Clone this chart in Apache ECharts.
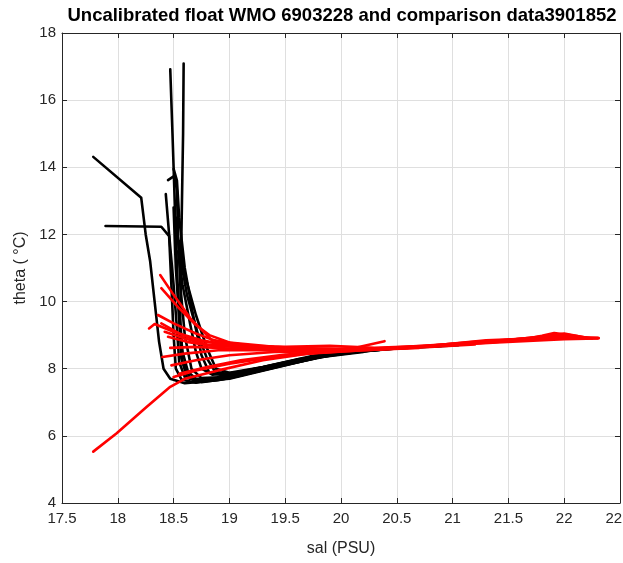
<!DOCTYPE html>
<html>
<head>
<meta charset="utf-8">
<script src="https://cdn.jsdelivr.net/npm/echarts@6/dist/echarts.min.js"></script>
<style>
html,body{margin:0;padding:0;background:#fff;}
#chart{width:623px;height:563px;}
</style>
</head>
<body>
<div id="chart"></div>
<script>
// Tick values
const xTicks = [17.5, 18, 18.5, 19, 19.5, 20, 20.5, 21, 21.5, 22, 22.5];
const yTicks = [4, 6, 8, 10, 12, 14, 16, 18];

// Uncalibrated float profiles (black): [sal, theta]
const b01 = [[18.47,16.92],[18.49,15.0],[18.51,13.0],[18.53,11.0],[18.55,9.5],[18.57,8.3],[18.62,7.75],[18.75,7.6],[19.0,7.72],[19.5,8.12],[20.0,8.46],[20.5,8.6],[21.05,8.7]];
const b02 = [[18.59,17.09],[18.585,15.0],[18.575,13.0],[18.565,11.0],[18.56,9.5],[18.58,8.2],[18.65,7.7],[18.8,7.64],[19.2,7.9],[19.7,8.32],[20.2,8.52]];
const b03 = [[17.78,14.31],[18.21,13.09],[18.25,12.0],[18.29,11.2],[18.33,10.0],[18.37,8.8],[18.41,8.0],[18.47,7.7],[18.6,7.57],[18.9,7.66],[19.4,8.03],[19.9,8.42],[20.3,8.56]];
const b04 = [[17.89,12.25],[18.39,12.23],[18.46,11.95],[18.48,10.5],[18.5,9.0],[18.52,8.0],[18.57,7.68],[18.7,7.58],[19.1,7.8],[19.6,8.25],[20.1,8.48]];
const b05 = [[18.45,13.62],[18.51,13.75],[18.53,13.3],[18.54,12.0],[18.56,10.5],[18.6,9.0],[18.66,8.0],[18.75,7.72],[19.0,7.76],[19.5,8.15],[20.0,8.47],[20.6,8.63]];
const b06 = [[18.5,13.95],[18.53,13.6],[18.55,12.5],[18.6,11.0],[18.68,9.5],[18.75,8.4],[18.82,7.88],[18.95,7.8],[19.3,8.02],[19.8,8.38],[20.4,8.58]];
const b07 = [[18.43,13.2],[18.46,12.0],[18.5,10.5],[18.53,9.2],[18.55,8.2],[18.6,7.75],[18.72,7.62],[19.0,7.7],[19.4,8.02],[19.9,8.42]];
const b08 = [[18.52,12.5],[18.55,11.5],[18.62,10.2],[18.72,9.0],[18.8,8.3],[18.87,7.92],[18.98,7.84],[19.3,8.04],[19.8,8.4],[20.5,8.61],[20.9,8.68]];
const b09 = [[18.55,11.8],[18.6,10.8],[18.7,9.6],[18.8,8.6],[18.88,8.0],[19.0,7.88],[19.3,8.05],[19.8,8.42]];
const b10 = [[18.5,12.8],[18.52,11.0],[18.55,9.5],[18.58,8.5],[18.63,7.9],[18.7,7.7],[18.9,7.7],[19.3,7.98],[19.7,8.3],[20.2,8.5]];
const b11 = [[18.54,11.5],[18.58,10.5],[18.65,9.3],[18.7,8.5],[18.75,8.0],[18.85,7.82],[19.1,7.9],[19.6,8.27],[20.0,8.46]];

// Comparison data profiles (red): [sal, theta]
const r01 = [[18.38,10.79],[18.5,10.2],[18.65,9.5],[18.84,8.86],[19.1,8.72],[19.5,8.6],[20.0,8.55],[20.5,8.62],[21.0,8.72],[21.5,8.82],[21.9,8.92],[22.31,8.91]];
const r02 = [[18.39,10.4],[18.55,9.8],[18.7,9.3],[18.82,9.0],[19.0,8.78],[19.4,8.65],[19.8,8.58],[20.3,8.6],[20.8,8.7],[21.3,8.8],[21.8,8.95],[22.1,8.98],[22.25,8.9]];
const r03 = [[18.28,9.2],[18.33,9.33],[18.5,9.1],[18.7,8.85],[19.0,8.7],[19.4,8.62],[19.8,8.55],[20.1,8.6],[20.39,8.82]];
const r04 = [[18.39,9.35],[18.55,9.05],[18.75,8.85],[19.0,8.7],[19.5,8.65],[19.9,8.68],[20.3,8.62],[20.8,8.68],[21.3,8.85],[21.7,8.9],[22.0,9.05],[22.2,8.92]];
const r05 = [[18.42,9.1],[18.6,8.9],[18.8,8.72],[19.2,8.62],[19.7,8.55],[20.2,8.58],[20.7,8.65],[21.2,8.75],[21.6,8.85],[21.8,8.98],[21.91,9.06],[22.05,9.0],[22.15,8.93]];
const r06 = [[18.47,8.62],[18.7,8.65],[19.0,8.6],[19.4,8.55],[19.9,8.52],[20.4,8.6],[20.9,8.7],[21.4,8.82],[21.85,8.98],[22.2,8.9]];
const r07 = [[18.4,8.35],[18.6,8.45],[18.9,8.55],[19.3,8.55],[19.7,8.5],[20.2,8.57],[20.6,8.62]];
const r08 = [[18.5,7.75],[18.7,7.95],[19.0,8.15],[19.4,8.35],[19.8,8.48],[20.3,8.57],[20.8,8.65],[21.2,8.72]];
const r09 = [[17.78,5.53],[17.99,6.08],[18.26,6.87],[18.47,7.46],[18.6,7.7],[18.9,7.95],[19.3,8.25],[19.7,8.45],[20.2,8.55],[20.7,8.62]];
const r10 = [[18.45,8.95],[18.62,8.8],[18.85,8.68],[19.2,8.63],[19.6,8.62],[20.0,8.58]];
const r11 = [[18.48,8.1],[18.7,8.25],[19.0,8.4],[19.4,8.5],[19.8,8.52],[20.3,8.58],[20.8,8.67],[21.4,8.78],[22.0,8.88],[22.3,8.9]];
const r12 = [[18.55,7.85],[18.8,8.05],[19.1,8.25],[19.5,8.42],[20.0,8.52]];
const r13 = [[18.36,9.6],[18.5,9.35],[18.7,9.05],[18.9,8.8],[19.3,8.65],[19.7,8.6],[20.2,8.58],[20.7,8.66],[21.2,8.8],[21.6,8.88],[22.0,8.95],[22.3,8.92]];

const blackProfiles = [b01,b02,b03,b04,b05,b06,b07,b08,b09,b10,b11];
const redProfiles = [r01,r02,r03,r04,r05,r06,r07,r08,r09,r10,r11,r12,r13];

const FONT = 'Liberation Sans, Arial, sans-serif';
const AX = '#262626';

function mkSeries(data, color, z) {
  return {
    type: 'line', data: data, showSymbol: false, symbol: 'none',
    xAxisIndex: 0, yAxisIndex: 0, z: z,
    lineStyle: { color: color, width: 2.6, cap: 'round', join: 'round' },
    silent: true, animation: false, clip: true
  };
}

const series = [];
blackProfiles.forEach(p => series.push(mkSeries(p, '#000000', 2)));
redProfiles.forEach(p => series.push(mkSeries(p, '#ff0000', 3)));

const gridDef = { left: 62, right: 3, top: 33, bottom: 60, containLabel: false, outerBoundsMode: 'none' };

function axisCommon(showLabel) {
  return {
    axisLine: { show: true, lineStyle: { color: AX, width: 1 } },
    axisTick: { show: true, inside: true, length: 5, lineStyle: { color: AX, width: 1 } },
    axisLabel: { show: showLabel, color: '#262626', fontFamily: FONT, fontSize: 15 },
  };
}

const option = {
  animation: false,
  backgroundColor: '#ffffff',
  grid: gridDef,
  graphic: [{
    type: 'text', x: 342, y: 16,
    style: { text: 'Uncalibrated float WMO 6903228 and comparison data3901852',
      align: 'center', verticalAlign: 'middle',
      font: 'bold 18.5px ' + FONT, fill: '#000' }
  }],
  xAxis: [
    Object.assign(axisCommon(true), {
      type: 'value', min: xTicks[0], max: xTicks[xTicks.length-1], interval: 0.5,
      position: 'bottom',
      name: 'sal (PSU)', nameLocation: 'middle', nameGap: 38,
      nameTextStyle: { fontFamily: FONT, fontSize: 16, color: '#262626' },
      splitLine: { show: true, lineStyle: { color: '#dfdfdf', width: 1 } },
      axisLabel: { show: true, color: '#262626', fontFamily: FONT, fontSize: 15, margin: 8 }
    }),
    Object.assign(axisCommon(false), {
      type: 'value', min: xTicks[0], max: xTicks[xTicks.length-1], interval: 0.5,
      position: 'top', splitLine: { show: false }
    })
  ],
  yAxis: [
    Object.assign(axisCommon(true), {
      type: 'value', min: yTicks[0], max: yTicks[yTicks.length-1], interval: 2,
      position: 'left',
      name: 'theta ( °C)', nameLocation: 'middle', nameGap: 24, nameRotate: 90,
      nameTextStyle: { fontFamily: FONT, fontSize: 16, color: '#262626' },
      splitLine: { show: true, lineStyle: { color: '#dfdfdf', width: 1 } },
      axisLabel: { show: true, color: '#262626', fontFamily: FONT, fontSize: 15, margin: 6 }
    }),
    Object.assign(axisCommon(false), {
      type: 'value', min: yTicks[0], max: yTicks[yTicks.length-1], interval: 2,
      position: 'right', splitLine: { show: false }
    })
  ],
  series: series
};

const chart = echarts.init(document.getElementById('chart'), null, { renderer: 'canvas' });
chart.setOption(option);
</script>
</body>
</html>
